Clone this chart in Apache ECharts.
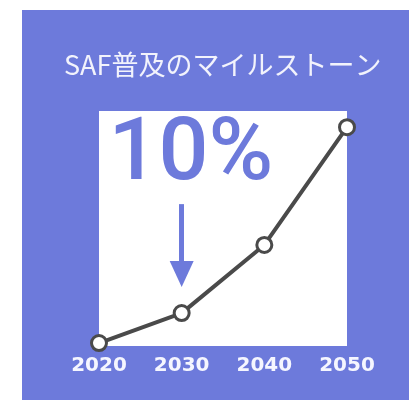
<!DOCTYPE html>
<html>
<head>
<meta charset="utf-8">
<script src="https://cdn.jsdelivr.net/npm/echarts@6/dist/echarts.min.js"></script>
<style>html,body{margin:0;padding:0;background:#fff;}#c{width:409px;height:401px;}</style>
</head>
<body>
<div id="c"></div>
<script>
const titleText = 'SAF普及のマイルストーン';
const years = ['2020', '2030', '2040', '2050'];
const values = [1.0, 11.2, 34.4, 74.5];
const highlightText = '10%';
const arrowYear = '2030';
const arrowFrom = 48.3;
const arrowTo = 24.5;

const purple = '#6d7adb';
const chart = echarts.init(document.getElementById('c'), null, {renderer: 'canvas'});
chart.setOption({
  animation: false,
  backgroundColor: '#ffffff',
  title: {
    text: titleText,
    left: 59,
    top: 46,
    textStyle: {color: '#f2f3fc', fontSize: 27, fontWeight: 'normal', fontFamily: 'Noto Sans CJK JP'}
  },
  graphic: [
    {type: 'rect', z: -10, shape: {x: 22, y: 10, width: 387, height: 390}, style: {fill: purple}, silent: true},
    {type: 'text', z: 10, style: {text: highlightText, x: 191, y: 157, textAlign: 'center', textVerticalAlign: 'middle',
      font: '500 88px Roboto, "Liberation Sans", sans-serif', fill: purple}, silent: true}
  ],
  grid: {left: 99, right: 62, top: 111, bottom: 55, show: true, backgroundColor: '#ffffff', borderWidth: 0, z: 0},
  xAxis: {
    type: 'category', data: years, boundaryGap: false,
    axisLine: {show: false}, axisTick: {show: false}, splitLine: {show: false},
    axisLabel: {color: '#f5f6ff', fontSize: 20, fontWeight: 'bold', fontFamily: 'DejaVu Sans', margin: 10}
  },
  yAxis: {type: 'value', min: 0, max: 80, show: false, splitLine: {show: false}},
  series: [{
    type: 'line', data: values,
    symbol: 'circle', symbolSize: 15,
    lineStyle: {color: '#4a4a4a', width: 4},
    itemStyle: {color: '#ffffff', borderColor: '#4a4a4a', borderWidth: 3},
    z: 5,
    markLine: {
      silent: true, animation: false,
      symbol: ['none', 'triangle'], symbolSize: [24, 26],
      label: {show: false},
      lineStyle: {color: purple, width: 5, type: 'solid'},
      emphasis: {disabled: true},
      data: [[{coord: [arrowYear, arrowFrom]}, {coord: [arrowYear, arrowTo]}]]
    }
  }]
});
</script>
</body>
</html>
